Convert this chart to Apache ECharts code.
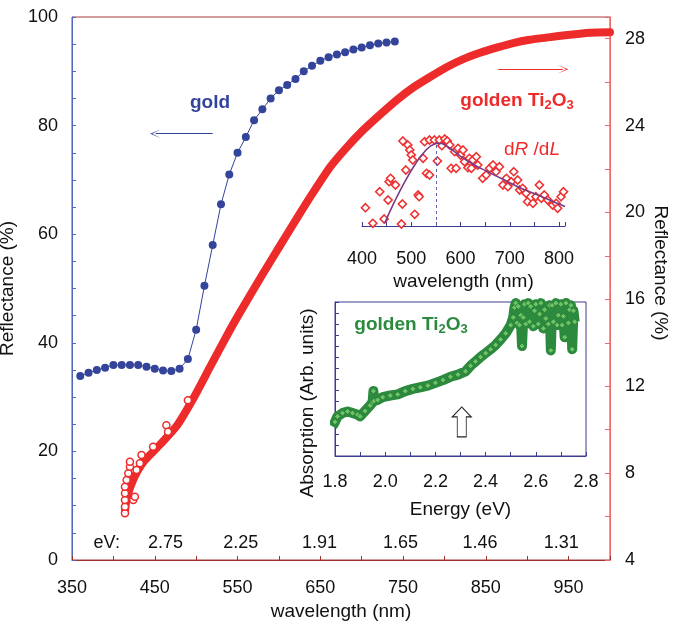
<!DOCTYPE html>
<html>
<head>
<meta charset="utf-8">
<title>Reflectance of gold and golden Ti2O3</title>
<script src="https://cdn.jsdelivr.net/npm/echarts@6/dist/echarts.min.js"></script>
<style>
html, body { margin: 0; padding: 0; background: #fff; }
#chart { width: 685px; height: 628px; }
</style>
</head>
<body>
<div id="chart"></div>
<script>
// gold film reflectance (left axis, %)
const goldWavelength = [360, 370, 380, 390, 400, 410, 420, 430, 440, 450, 460, 470, 480, 490, 500,
  510, 520, 530, 540, 550, 560, 570, 580, 590, 600, 610, 620, 630, 640, 650,
  660, 670, 680, 690, 700, 710, 720, 730, 740];
const goldReflectance = [33.9, 34.5, 35.0, 35.4, 35.9, 35.9, 35.9, 35.9, 35.6, 35.2, 34.9, 34.8, 35.2, 37.0, 42.4,
  50.5, 58.0, 65.5, 71.0, 75.0, 77.9, 81.0, 83.0, 85.0, 86.5, 87.5, 88.6, 90.0, 91.0, 91.95,
  92.6, 93.1, 93.5, 94.0, 94.4, 94.8, 95.1, 95.3, 95.5];

// golden Ti2O3 reflectance (right axis, %)
const tiWavelength = [414, 416, 424, 436, 456, 477, 496, 517, 541, 553, 581, 601, 622, 641, 662,
  682, 702, 722, 743, 762, 783, 803, 822, 843, 864, 883, 903, 923, 943, 976, 1000];
const tiReflectance = [6.2, 6.8, 7.7, 8.5, 9.3, 10.2, 11.4, 12.9, 14.6, 15.4, 17.2, 18.45, 19.75, 20.9, 22.1,
  23.0, 23.8, 24.5, 25.2, 25.75, 26.25, 26.7, 27.05, 27.35, 27.6, 27.8, 27.95, 28.05, 28.15, 28.28, 28.3];
// scattered points at the short-wavelength end
const tiNoiseWavelength = [414, 414, 414, 414, 414, 416, 418, 420, 420, 424, 426, 428, 432, 434, 448, 464, 466, 490];
const tiNoiseReflectance = [6.15, 6.45, 6.76, 7.07, 7.37, 7.68, 7.99, 8.29, 8.52, 6.76, 6.91, 8.14, 8.45, 8.83, 9.21, 10.2, 9.9, 11.36];

// photon energy marks along the bottom
const evLabelWavelength = [392, 463, 554, 649, 747, 843, 941];
const evLabels = ['eV:', '2.75', '2.25', '1.91', '1.65', '1.46', '1.31'];

// inset: dR/dL
const dRdLWavelength = [407, 422, 436, 445, 453, 455, 458, 468, 480, 482, 489, 483, 493, 497, 500,
  503, 507, 514, 516, 524, 527, 531, 537, 537, 547, 553, 557, 562, 568, 573,
  578, 581, 588, 591, 595, 600, 605, 608, 615, 618, 622, 625, 632, 635, 645,
  652, 659, 666, 672, 679, 686, 693, 696, 703, 708, 716, 720, 726, 733, 736,
  747, 753, 760, 764, 770, 777, 787, 794, 797, 804, 809];
const dRdLValue = [1.83, 0.27, 3.43, 0.7, 2.6, 4.43, 4.77, 4.1, 0.2, 2.2, 5.6, 8.5, 8.1, 7.6, 7.1,
  6.6, 1.17, 3.1, 2.93, 6.77, 8.43, 5.27, 5.1, 8.6, 8.6, 6.5, 8.6, 8.03, 8.7, 8.5,
  8.1, 5.77, 7.43, 5.77, 7.77, 7.1, 7.6, 6.43, 5.83, 6.77, 5.77, 6.6, 6.93, 6.1, 4.77,
  5.1, 5.77, 6.1, 5.43, 5.93, 4.1, 4.77, 3.93, 4.43, 5.43, 4.6, 3.6, 3.77, 3.27, 2.43,
  2.27, 2.93, 4.1, 2.77, 3.1, 2.6, 2.1, 2.27, 1.77, 2.93, 3.43];
const fitWavelength = [446, 466, 487, 507, 527, 547, 557, 574, 601, 628, 655, 689, 723, 757, 791, 812];
const fitValue = [0.27, 2.43, 4.43, 6.1, 7.43, 8.2, 8.27, 7.93, 6.93, 6.1, 5.43, 4.6, 3.77, 3.1, 2.37, 1.95];
const peakWavelength = 550;
const peakValue = 8.25;

// inset: absorption vs energy
const absEnergy = [1.79, 1.80, 1.81, 1.83, 1.85, 1.87, 1.89, 1.90, 1.92, 1.94, 1.95, 1.953, 1.956, 1.97, 1.99,
  2.02, 2.05, 2.08, 2.11, 2.14, 2.17, 2.20, 2.23, 2.26, 2.29, 2.32, 2.34, 2.36, 2.38, 2.40,
  2.42, 2.44, 2.46, 2.48, 2.50, 2.51, 2.515, 2.52, 2.525, 2.53, 2.535, 2.54, 2.545, 2.55, 2.555,
  2.56, 2.57, 2.575, 2.58, 2.59, 2.595, 2.60, 2.61, 2.615, 2.62, 2.63, 2.635, 2.64, 2.65, 2.655,
  2.66, 2.665, 2.67, 2.68, 2.685, 2.69, 2.70, 2.705, 2.71, 2.715, 2.72, 2.73, 2.735, 2.74, 2.745,
  2.75, 2.755];
const absValue = [2.7, 3.1, 3.6, 3.9, 4.05, 3.9, 3.75, 3.6, 4.1, 4.6, 4.9, 5.9, 5.0, 5.1, 5.35,
  5.5, 5.6, 5.9, 6.1, 6.25, 6.4, 6.65, 6.9, 7.2, 7.4, 7.7, 8.2, 8.6, 9.0, 9.35,
  9.7, 10.1, 10.6, 11.15, 11.9, 12.6, 13.5, 13.9, 12.1, 13.6, 11.9, 12.8, 10.0, 12.6, 13.8,
  12.0, 13.9, 12.2, 13.6, 11.8, 13.2, 13.8, 12.0, 12.9, 13.9, 11.6, 13.3, 12.5, 12.0, 13.7,
  9.6, 13.7, 12.2, 13.9, 11.9, 12.8, 13.8, 11.9, 12.7, 10.8, 13.9, 12.1, 13.3, 13.7, 9.7,
  13.2, 12.2];
const arrowEnergy = 2.305;
const arrowLevel = 3.1;

const zip = (xs, ys) => xs.map((x, i) => [x, ys[i]]);

const fontFamily = 'Arial, "Liberation Sans", sans-serif';
const textColor = '#111111';
const goldColor = '#34449a';
const tiColor = '#ee2b2b';
const insetAxisColor = '#3b3b8f';
const greenColor = '#2b8a3e';

const chart = echarts.init(document.getElementById('chart'));

chart.setOption({
  animation: false,
  backgroundColor: '#ffffff',
  textStyle: { fontFamily: fontFamily },
  grid: [
    { left: 72, right: 75, top: 17, bottom: 68, show: true, borderColor: '#a83c3c', borderWidth: 1, outerBoundsMode: 'none' },
    { left: 362, right: 120, top: 126, bottom: 402, outerBoundsMode: 'none' },
    { left: 335, right: 99, top: 302, bottom: 172, show: true, borderColor: insetAxisColor, borderWidth: 1, backgroundColor: '#fff', outerBoundsMode: 'none' }
  ],
  xAxis: [
    {
      gridIndex: 0, type: 'value', min: 350, max: 1000, interval: 50,
      name: 'wavelength (nm)', nameLocation: 'middle', nameGap: 42,
      nameTextStyle: { fontSize: 19, color: textColor },
      axisLine: { lineStyle: { color: '#a03030' } },
      axisTick: { inside: true, length: 4, lineStyle: { color: '#a03030' } },
      axisLabel: {
        fontSize: 18, color: textColor, margin: 19,
        formatter: v => ((v - 350) % 100 === 0 && v < 1000) ? String(v) : ''
      },
      splitLine: { show: false }
    },
    {
      gridIndex: 1, type: 'value', min: 400, max: 812, interval: 50,
      name: 'wavelength (nm)', nameLocation: 'middle', nameGap: 46,
      nameTextStyle: { fontSize: 19, color: textColor },
      axisLine: { lineStyle: { color: insetAxisColor } },
      axisTick: { inside: true, length: 4, lineStyle: { color: insetAxisColor } },
      axisLabel: {
        fontSize: 18, color: textColor, margin: 24,
        formatter: v => (v % 100 === 0) ? String(v) : ''
      },
      splitLine: { show: false }
    },
    {
      gridIndex: 2, type: 'value', min: 1.8, max: 2.8, interval: 0.1,
      name: 'Energy (eV)', nameLocation: 'middle', nameGap: 44,
      nameTextStyle: { fontSize: 19, color: textColor },
      axisLine: { lineStyle: { color: insetAxisColor } },
      axisTick: { inside: true, length: 4, lineStyle: { color: insetAxisColor } },
      axisLabel: {
        fontSize: 18, color: textColor, margin: 17,
        formatter: v => (Math.round(v * 10) % 2 === 0) ? v.toFixed(1) : ''
      },
      splitLine: { show: false }
    }
  ],
  yAxis: [
    {
      gridIndex: 0, type: 'value', min: 0, max: 100, interval: 5,
      name: 'Reflectance (%)', nameLocation: 'middle', nameGap: 40,
      nameTextStyle: { fontSize: 19, color: textColor },
      axisLine: { show: true, lineStyle: { color: '#5068c0' } },
      axisTick: { inside: true, length: 4, lineStyle: { color: '#5068c0' } },
      axisLabel: {
        fontSize: 18, color: textColor, margin: 14,
        formatter: v => (v % 20 === 0) ? String(v) : ''
      },
      splitLine: { show: false }
    },
    {
      gridIndex: 0, type: 'value', min: 4, max: 29, interval: 2, position: 'right',
      axisLine: { show: true, lineStyle: { color: '#f06a6a' } },
      axisTick: { inside: true, length: 5, lineStyle: { color: '#f06a6a' } },
      axisLabel: {
        fontSize: 18, color: textColor, margin: 15,
        formatter: v => (v % 4 === 0) ? String(v) : ''
      },
      splitLine: { show: false }
    },
    {
      gridIndex: 1, type: 'value', min: 0, max: 10, show: false
    },
    {
      gridIndex: 2, type: 'value', min: 0, max: 14, interval: 1,
      axisLine: { show: true, lineStyle: { color: insetAxisColor } },
      axisTick: { inside: true, length: 4, lineStyle: { color: insetAxisColor } },
      axisLabel: { show: false },
      splitLine: { show: false }
    }
  ],
  series: [
    {
      name: 'gold', type: 'line', xAxisIndex: 0, yAxisIndex: 0,
      data: zip(goldWavelength, goldReflectance),
      symbol: 'circle', symbolSize: 8,
      itemStyle: { color: goldColor },
      lineStyle: { color: goldColor, width: 1 },
      markLine: {
        silent: true, symbol: ['none', 'path://M0,10 L5,0 L10,10 L5,2 Z'], symbolSize: [9, 11],
        label: { show: false },
        lineStyle: { color: goldColor, width: 1, type: 'solid' },
        data: [[{ coord: [520, 78.5] }, { coord: [451, 78.5] }]]
      },
      z: 3
    },
    {
      name: 'golden Ti2O3', type: 'line', xAxisIndex: 0, yAxisIndex: 1,
      data: zip(tiWavelength, tiReflectance),
      showSymbol: false, clip: false, smooth: 0.2,
      lineStyle: { color: tiColor, width: 8, cap: 'round', join: 'round' },
      markLine: {
        silent: true, symbol: ['none', 'path://M0,10 L5,0 L10,10 L5,2 Z'], symbolSize: [9, 11],
        label: { show: false },
        lineStyle: { color: tiColor, width: 1, type: 'solid' },
        data: [[{ coord: [865, 26.6] }, { coord: [943, 26.6] }]]
      },
      z: 2
    },
    {
      name: 'golden Ti2O3 scatter', type: 'scatter', xAxisIndex: 0, yAxisIndex: 1,
      data: zip(tiNoiseWavelength, tiNoiseReflectance),
      symbol: 'circle', symbolSize: 7,
      itemStyle: { color: '#ffffff', borderColor: tiColor, borderWidth: 1.5, opacity: 1 },
      z: 2
    },
    {
      name: 'eV', type: 'scatter', xAxisIndex: 0, yAxisIndex: 0,
      data: evLabelWavelength.map((x, i) => ({ value: [x, 3.13], name: evLabels[i] })),
      symbolSize: 0, silent: true,
      itemStyle: { opacity: 1 },
      label: { show: true, position: 'inside', formatter: p => p.name, fontSize: 18, color: textColor, opacity: 1 }
    },
    {
      name: 'dR/dL', type: 'scatter', xAxisIndex: 1, yAxisIndex: 2,
      data: zip(dRdLWavelength, dRdLValue),
      symbol: 'diamond', symbolSize: 8,
      itemStyle: { color: '#ffffff', borderColor: '#ee3030', borderWidth: 1.6, opacity: 1 }
    },
    {
      name: 'dR/dL fit', type: 'line', xAxisIndex: 1, yAxisIndex: 2,
      data: zip(fitWavelength, fitValue),
      showSymbol: false, smooth: true,
      lineStyle: { color: '#7a3a86', width: 1.6 },
      markLine: {
        silent: true, symbol: 'none', label: { show: false },
        lineStyle: { color: '#6262aa', width: 1, type: [3, 3] },
        data: [[{ coord: [peakWavelength, 0] }, { coord: [peakWavelength, peakValue] }]]
      },
      z: 3
    },
    {
      name: 'absorption', type: 'line', xAxisIndex: 2, yAxisIndex: 3,
      data: zip(absEnergy, absValue),
      symbol: 'diamond', symbolSize: 6, showSymbol: true,
      itemStyle: { color: '#6cc466', borderColor: '#2a7a35', borderWidth: 0.8 },
      lineStyle: { color: greenColor, width: 10, join: 'round' },
      markPoint: {
        silent: true,
        symbol: 'path://M9.5,0 L19,10 L14,10 L14,30 L5,30 L5,10 L0,10 Z',
        symbolSize: [19, 30],
        itemStyle: { color: '#ffffff', borderColor: '#222222', borderWidth: 1 },
        label: { show: false },
        data: [{ coord: [arrowEnergy, arrowLevel] }]
      }
    }
  ],
  graphic: [
    {
      type: 'text', x: 660, y: 273, rotation: -Math.PI / 2,
      style: { text: 'Reflectance (%)', font: '19px ' + fontFamily, fill: textColor, align: 'center', verticalAlign: 'middle' }
    },
    {
      type: 'text', x: 308, y: 403, rotation: Math.PI / 2,
      style: { text: 'Absorption (Arb. units)', font: '19px ' + fontFamily, fill: textColor, align: 'center', verticalAlign: 'middle' }
    },
    {
      type: 'text', x: 210, y: 103,
      style: { text: 'gold', font: 'bold 19px ' + fontFamily, fill: goldColor, align: 'center', verticalAlign: 'middle' }
    },
    {
      type: 'text', x: 517, y: 101,
      style: {
        text: '{b|golden Ti}{s|2}{b|O}{s|3}', align: 'center', verticalAlign: 'middle',
        rich: {
          b: { fontSize: 19, fontWeight: 'bold', fontFamily: fontFamily, fill: tiColor, lineHeight: 22 },
          s: { fontSize: 13, fontWeight: 'bold', fontFamily: fontFamily, fill: tiColor, lineHeight: 22, padding: [9, 0, 0, 0] }
        }
      }
    },
    {
      type: 'text', x: 532, y: 150,
      style: {
        text: '{n|d}{i|R}{n| /d}{i|L}', align: 'center', verticalAlign: 'middle',
        rich: {
          n: { fontSize: 19, fontFamily: fontFamily, fill: tiColor },
          i: { fontSize: 19, fontStyle: 'italic', fontFamily: fontFamily, fill: tiColor }
        }
      }
    },
    {
      type: 'text', x: 411, y: 325,
      style: {
        text: '{b|golden Ti}{s|2}{b|O}{s|3}', align: 'center', verticalAlign: 'middle',
        rich: {
          b: { fontSize: 19, fontWeight: 'bold', fontFamily: fontFamily, fill: greenColor, lineHeight: 22 },
          s: { fontSize: 13, fontWeight: 'bold', fontFamily: fontFamily, fill: greenColor, lineHeight: 22, padding: [9, 0, 0, 0] }
        }
      }
    }
  ]
});
</script>
</body>
</html>
